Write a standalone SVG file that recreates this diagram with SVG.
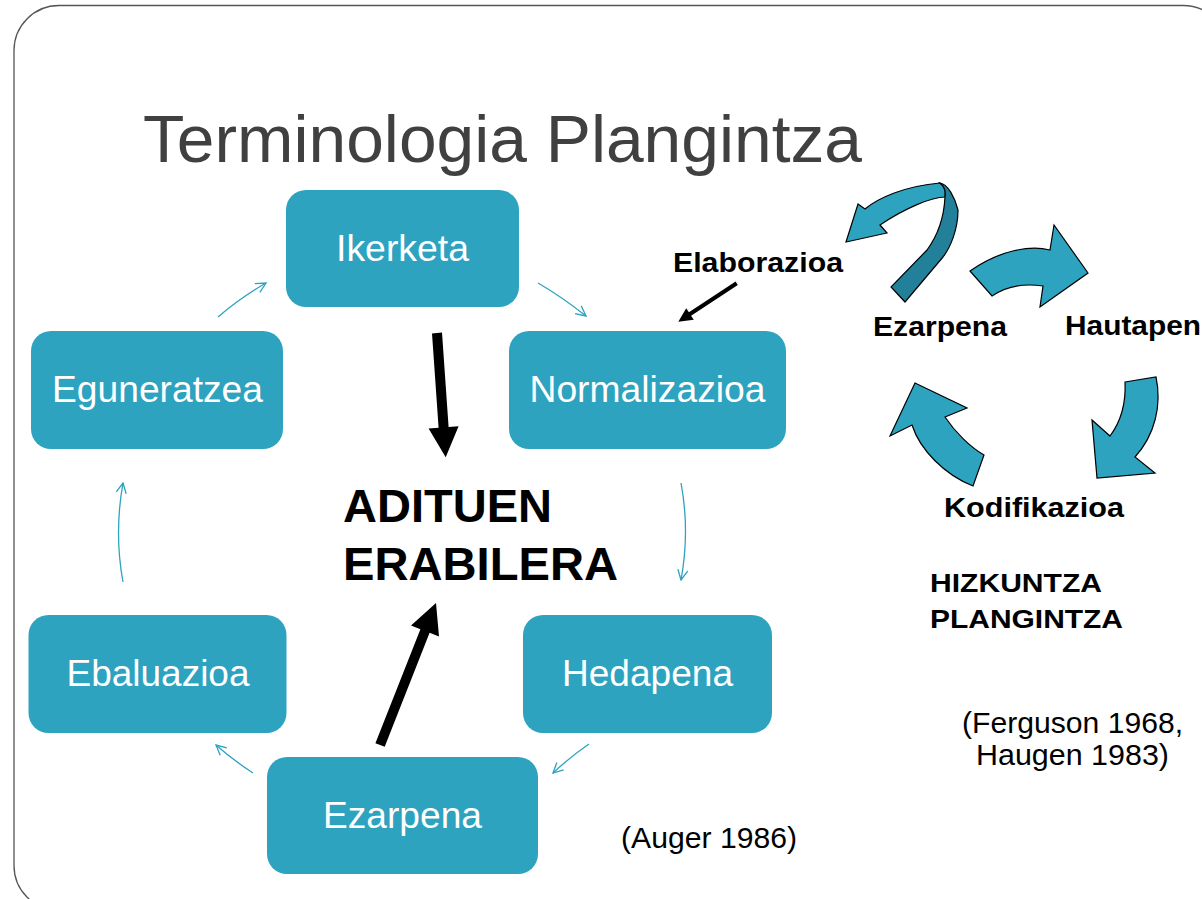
<svg xmlns="http://www.w3.org/2000/svg" width="1202" height="899" viewBox="0 0 1202 899">
<defs>
<style>
.box{fill:#2da3bf;}
.bl{font-family:"Liberation Sans",Arial,sans-serif;font-size:36px;fill:#ffffff;text-anchor:middle;}
.conn{fill:none;stroke:#2da3bf;stroke-width:1.3;}
.big{fill:#2da3bf;stroke:#000;stroke-width:1.2;stroke-linejoin:miter;}
.bold{font-family:"Liberation Sans",Arial,sans-serif;font-weight:bold;fill:#000;}
.reg{font-family:"Liberation Sans",Arial,sans-serif;fill:#000;}
</style>
<marker id="oa" viewBox="0 0 12 12" refX="11" refY="6" markerWidth="12" markerHeight="12" markerUnits="userSpaceOnUse" orient="auto">
<path d="M1,1 L11,6 L1,11" fill="none" stroke="#2da3bf" stroke-width="1.3"/>
</marker>
</defs>
<rect x="0" y="0" width="1202" height="899" fill="#ffffff"/>
<rect x="14" y="5.5" width="1214" height="905" rx="45" ry="45" fill="none" stroke="#555" stroke-width="1.3"/>
<text x="143" y="162" font-family="'Liberation Sans',Arial,sans-serif" font-size="67" fill="#404040" textLength="719" lengthAdjust="spacingAndGlyphs">Terminologia Plangintza</text>

<g id="connectors">
<path class="conn" d="M218,317 Q240,298 266,283" marker-end="url(#oa)"/>
<path class="conn" d="M538,283 Q562,297 586,316" marker-end="url(#oa)"/>
<path class="conn" d="M681,483 Q690,531 681,580" marker-end="url(#oa)"/>
<path class="conn" d="M589,744 Q570,757 553,773" marker-end="url(#oa)"/>
<path class="conn" d="M253,773 Q233,760 216,745" marker-end="url(#oa)"/>
<path class="conn" d="M123,582 Q114,533 123,483" marker-end="url(#oa)"/>
<polygon points="432,333.4 438.6,427.8 428.6,428.4 445.7,457.3 458.6,426.3 448.6,427.1 442,332.6" fill="#000"/>
<polygon points="375.4,743.2 420.4,629.2 411,625.5 436,603 439,636.5 429.6,632.8 384.7,746.8" fill="#000"/>
<polygon points="735.6,281.6 688.9,312.3 686.2,308.2 678.3,321.7 693.8,319.8 691.1,315.7 737.8,285" fill="#000"/>
</g>

<g id="n-ikerketa">
<rect class="box" x="286" y="190" width="233" height="117" rx="20"/>
<text class="bl" x="402.5" y="261" textLength="133" lengthAdjust="spacingAndGlyphs">Ikerketa</text>
</g>
<g id="n-eguneratzea">
<rect class="box" x="31" y="331" width="252" height="118" rx="20"/>
<text class="bl" x="157.5" y="402" textLength="211" lengthAdjust="spacingAndGlyphs">Eguneratzea</text>
</g>
<g id="n-normalizazioa">
<rect class="box" x="509" y="331" width="277" height="118" rx="20"/>
<text class="bl" x="647.5" y="402" textLength="236" lengthAdjust="spacingAndGlyphs">Normalizazioa</text>
</g>
<g id="n-ebaluazioa">
<rect class="box" x="28.5" y="615" width="258" height="118" rx="20"/>
<text class="bl" x="158" y="686" textLength="183" lengthAdjust="spacingAndGlyphs">Ebaluazioa</text>
</g>
<g id="n-hedapena">
<rect class="box" x="523" y="615" width="249" height="118" rx="20"/>
<text class="bl" x="647.5" y="686" textLength="171" lengthAdjust="spacingAndGlyphs">Hedapena</text>
</g>
<g id="n-ezarpena">
<rect class="box" x="267" y="757" width="271" height="117" rx="20"/>
<text class="bl" x="402.5" y="828" textLength="159" lengthAdjust="spacingAndGlyphs">Ezarpena</text>
</g>

<g id="n-aditu">
<text class="bold" x="343" y="522" font-size="47" textLength="209" lengthAdjust="spacingAndGlyphs">ADITUEN</text>
<text class="bold" x="343" y="580" font-size="47" textLength="275" lengthAdjust="spacingAndGlyphs">ERABILERA</text>
</g>

<g id="cycle">
<path class="big" d="M846,242 L858,204 L865,209 C878,198 905,186 940,183 C944,186 946,191 945,197 C932,197 905,208 880,225 L887,233 Z"/>
<path class="big" style="fill:#23809a" d="M940,183 C948,184 955,198 958,210 C958,230 950,248 943,257 L905,302 L891,287 L927,250 C938,235 944,218 945,197 C946,191 944,186 940,183 Z"/>
<path class="big" d="M970,271 L992,296 C1005,287 1022,283 1043,286 L1040,307 L1088,273 L1054,225 L1050,250 C1030,245 1000,250 970,271 Z"/>
<path class="big" d="M1125,382 L1156,377 C1162,405 1155,435 1135,457 L1155,473 L1097,478 L1092,420 L1110,436 C1122,420 1126,402 1125,382 Z"/>
<path class="big" d="M973,486 L984,455 C970,447 955,432 945,417 L967,408 L915,383 L890,436 L912,425 C920,450 945,475 973,486 Z"/>
</g>

<g id="labels">
<text class="bold" x="673" y="272" font-size="27.5" textLength="170" lengthAdjust="spacingAndGlyphs">Elaborazioa</text>
<text class="bold" x="873" y="335.5" font-size="27.5" textLength="134" lengthAdjust="spacingAndGlyphs">Ezarpena</text>
<text class="bold" x="1065" y="335" font-size="27" textLength="136" lengthAdjust="spacingAndGlyphs">Hautapen</text>
<text class="bold" x="944" y="516.5" font-size="27.5" textLength="180" lengthAdjust="spacingAndGlyphs">Kodifikazioa</text>
<text class="bold" x="930" y="591.5" font-size="25.5" textLength="172" lengthAdjust="spacingAndGlyphs">HIZKUNTZA</text>
<text class="bold" x="930" y="628" font-size="25.5" textLength="193" lengthAdjust="spacingAndGlyphs">PLANGINTZA</text>
<text class="reg" x="962" y="733" font-size="30" textLength="221" lengthAdjust="spacingAndGlyphs">(Ferguson 1968,</text>
<text class="reg" x="976" y="765" font-size="30" textLength="193" lengthAdjust="spacingAndGlyphs">Haugen 1983)</text>
<text class="reg" x="621" y="848" font-size="30" textLength="176" lengthAdjust="spacingAndGlyphs">(Auger 1986)</text>
</g>
</svg>
